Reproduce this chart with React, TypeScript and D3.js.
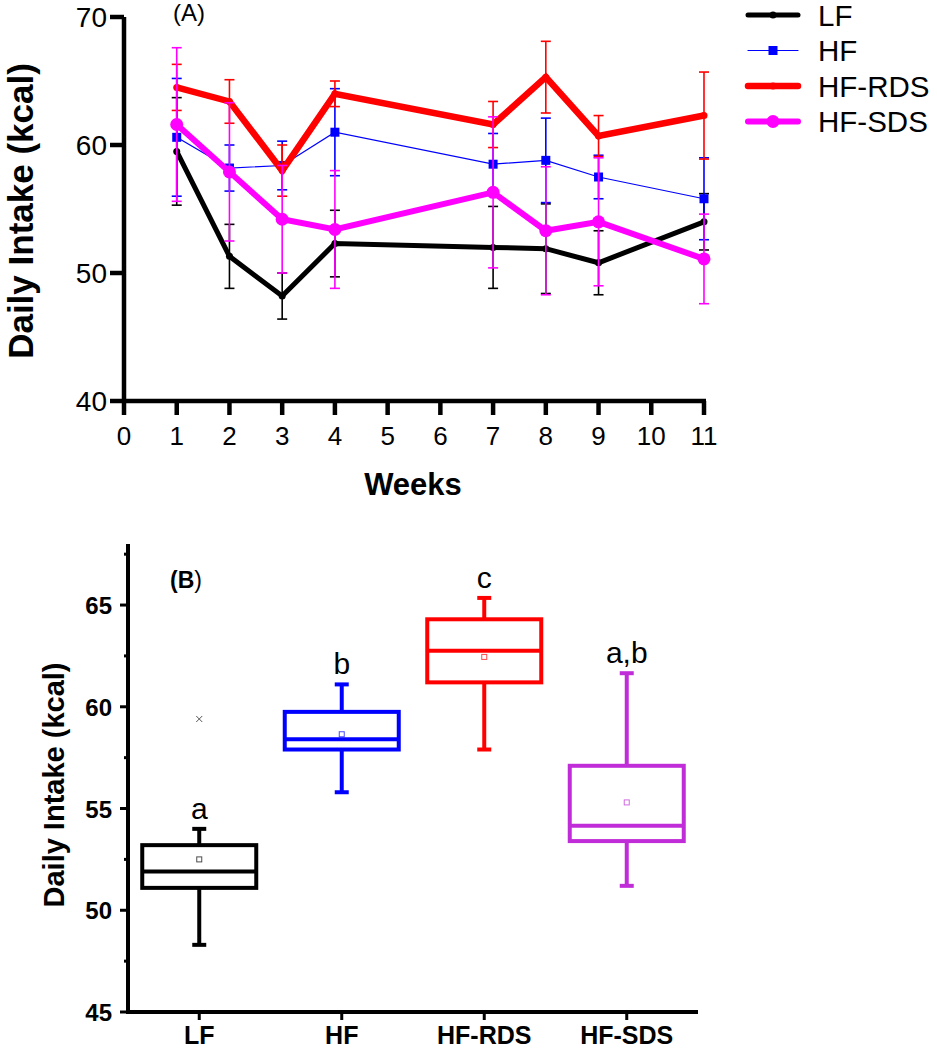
import React from "react";
import * as d3 from "d3";

// ---------- Panel A data ----------
const weeks = [1, 2, 3, 4, 7, 8, 9, 11];
const xTicksA = [0, 1, 2, 3, 4, 5, 6, 7, 8, 9, 10, 11];
const yTicksA = [40, 50, 60, 70];
const lfMean = [59.5, 51.3, 48.2, 52.3, 52.0, 51.9, 50.8, 54.0];
const lfErr = [4.2, 2.5, 1.8, 2.6, 3.2, 3.5, 2.5, 2.2];
const hfMean = [60.6, 58.2, 58.4, 61.0, 58.5, 58.8, 57.5, 55.8];
const hfErr = [4.6, 1.8, 1.9, 3.4, 2.4, 3.3, 1.7, 3.2];
const rdsMean = [64.5, 63.4, 58.0, 64.0, 61.6, 65.3, 60.7, 62.3];
const rdsErr = [1.8, 1.7, 2.0, 1.0, 1.8, 2.8, 1.6, 3.4];
const sdsMean = [61.6, 57.9, 54.2, 53.4, 56.3, 53.3, 54.0, 51.1];
const sdsErr = [6.0, 5.4, 4.2, 4.6, 5.9, 5.0, 5.0, 3.5];

// ---------- Panel B data ----------
const groups = ["LF", "HF", "HF-RDS", "HF-SDS"];
const whiskerLow = [48.3, 55.8, 57.9, 51.2];
const q1 = [51.1, 57.9, 61.2, 53.4];
const median = [51.9, 58.4, 62.75, 54.15];
const q3 = [53.2, 59.75, 64.3, 57.1];
const whiskerHigh = [54.0, 61.1, 65.35, 61.65];
const means = [52.5, 58.65, 62.45, 55.3];
const letters = ["a", "b", "c", "a,b"];
const lfOutliers = [59.4];
const yTicksB = [45, 50, 55, 60, 65];
const yMinorB = [47.5, 52.5, 57.5, 62.5, 67.5];

const FONT = "'Liberation Sans', Arial, Helvetica, sans-serif";

type Series = { name: string; mean: number[]; err: number[]; color: string; width: number; marker: "none" | "square" | "circle" | "dot" };

const seriesA: Series[] = [
  { name: "LF", mean: lfMean, err: lfErr, color: "#000000", width: 5, marker: "dot" },
  { name: "HF", mean: hfMean, err: hfErr, color: "#0000ff", width: 1.2, marker: "square" },
  { name: "HF-RDS", mean: rdsMean, err: rdsErr, color: "#ff0000", width: 6.5, marker: "dot" },
  { name: "HF-SDS", mean: sdsMean, err: sdsErr, color: "#ff00ff", width: 6, marker: "circle" },
];
const boxColors = ["#000000", "#0000ff", "#ff0000", "#c02cd8"];

function Marker({ kind, x, y, color }: { kind: string; x: number; y: number; color: string }) {
  if (kind === "square") return <rect x={x - 4.5} y={y - 4.5} width={9} height={9} fill={color} />;
  if (kind === "circle") return <circle cx={x} cy={y} r={6.5} fill={color} />;
  if (kind === "dot") return <circle cx={x} cy={y} r={3.5} fill={color} />;
  return null;
}

function PanelA() {
  const x = d3.scaleLinear().domain([0, 11]).range([124, 704]);
  const y = d3.scaleLinear().domain([40, 70]).range([401, 17]);
  const line = d3
    .line<number>()
    .x((_, i) => x(weeks[i]))
    .y((d) => y(d));
  const cap = 5;
  return (
    <g>
      {seriesA.map((s) => (
        <g key={s.name}>
          {s.mean.map((m, i) => {
            const cx = x(weeks[i]);
            const top = y(m + s.err[i]);
            const bot = y(m - s.err[i]);
            return (
              <g key={i} stroke={s.color} strokeWidth={1.6}>
                <line x1={cx} x2={cx} y1={top} y2={bot} />
                <line x1={cx - cap} x2={cx + cap} y1={top} y2={top} />
                <line x1={cx - cap} x2={cx + cap} y1={bot} y2={bot} />
              </g>
            );
          })}
          <path d={line(s.mean) || ""} fill="none" stroke={s.color} strokeWidth={s.width} strokeLinejoin="miter" />
          {s.mean.map((m, i) => (
            <Marker key={i} kind={s.marker} x={x(weeks[i])} y={y(m)} color={s.color} />
          ))}
        </g>
      ))}
      {/* axes */}
      <line x1={124} x2={124} y1={y(70)} y2={y(40) + 2} stroke="#000" strokeWidth={4.5} />
      <line x1={122} x2={x(11) + 2} y1={401} y2={401} stroke="#000" strokeWidth={4.5} />
      {yTicksA.map((t) => (
        <g key={t}>
          <line x1={110} x2={124} y1={y(t)} y2={y(t)} stroke="#000" strokeWidth={4.5} />
          <text x={107} y={y(t) + 10} textAnchor="end" fontSize={28} fontFamily={FONT}>
            {t}
          </text>
        </g>
      ))}
      {xTicksA.map((t) => (
        <g key={t}>
          <line x1={x(t)} x2={x(t)} y1={401} y2={415} stroke="#000" strokeWidth={4.5} />
          <text x={x(t)} y={445} textAnchor="middle" fontSize={26} fontFamily={FONT}>
            {t}
          </text>
        </g>
      ))}
      <text x={413} y={495} textAnchor="middle" fontSize={31} fontWeight="bold" fontFamily={FONT}>
        Weeks
      </text>
      <text
        transform={`translate(33,211) rotate(-90)`}
        textAnchor="middle"
        fontSize={35}
        fontWeight="bold"
        fontFamily={FONT}
      >
        Daily Intake (kcal)
      </text>
      <text x={173} y={21} fontSize={24} fontFamily={FONT}>
        (A)
      </text>
      {/* legend */}
      {seriesA.map((s, i) => {
        const ly = 15 + i * 35.5;
        return (
          <g key={s.name}>
            <line x1={748} x2={798} y1={ly} y2={ly} stroke={s.color} strokeWidth={s.width} strokeLinecap="round" />
            <Marker kind={s.marker} x={773} y={ly} color={s.color} />
            <text x={818} y={ly + 10.5} fontSize={29.5} fontFamily={FONT}>
              {s.name}
            </text>
          </g>
        );
      })}
    </g>
  );
}

function PanelB() {
  const x = d3.scaleBand().domain(groups).range([128, 698]);
  const y = d3.scaleLinear().domain([45, 68]).range([1012, 544]);
  const half = 57;
  const capHalf = 7;
  return (
    <g>
      {groups.map((g, i) => {
        const cx = (x(g) as number) + x.bandwidth() / 2;
        const c = boxColors[i];
        return (
          <g key={g}>
            <g stroke={c} strokeWidth={4} fill="none">
              <line x1={cx} x2={cx} y1={y(whiskerHigh[i])} y2={y(q3[i])} />
              <line x1={cx} x2={cx} y1={y(q1[i])} y2={y(whiskerLow[i])} />
              <line x1={cx - capHalf} x2={cx + capHalf} y1={y(whiskerHigh[i])} y2={y(whiskerHigh[i])} />
              <line x1={cx - capHalf} x2={cx + capHalf} y1={y(whiskerLow[i])} y2={y(whiskerLow[i])} />
              <rect x={cx - half} y={y(q3[i])} width={half * 2} height={y(q1[i]) - y(q3[i])} />
              <line x1={cx - half} x2={cx + half} y1={y(median[i])} y2={y(median[i])} />
            </g>
            <rect x={cx - 2.5} y={y(means[i]) - 2.5} width={5} height={5} fill="#fff" stroke={c} strokeWidth={1} opacity={0.7} />
            <text x={cx} y={y(whiskerHigh[i]) - 10} textAnchor="middle" fontSize={30} fontFamily={FONT}>
              {letters[i]}
            </text>
            {i === 0 &&
              lfOutliers.map((o, k) => (
                <g key={k} stroke="#555" strokeWidth={1}>
                  <line x1={cx - 3} x2={cx + 3} y1={y(o) - 3} y2={y(o) + 3} />
                  <line x1={cx - 3} x2={cx + 3} y1={y(o) + 3} y2={y(o) - 3} />
                </g>
              ))}
          </g>
        );
      })}
      {/* axes */}
      <line x1={128} x2={128} y1={y(68)} y2={1014} stroke="#000" strokeWidth={4} />
      <line x1={126} x2={698} y1={1012} y2={1012} stroke="#000" strokeWidth={4} />
      {yTicksB.map((t) => (
        <g key={t}>
          <line x1={120} x2={128} y1={y(t)} y2={y(t)} stroke="#000" strokeWidth={3} />
          <text x={112} y={y(t) + 9} textAnchor="end" fontSize={24} fontWeight="bold" fontFamily={FONT}>
            {t}
          </text>
        </g>
      ))}
      {yMinorB.map((t) => (
        <line key={t} x1={124} x2={128} y1={y(t)} y2={y(t)} stroke="#000" strokeWidth={3} />
      ))}
      {groups.map((g) => {
        const cx = (x(g) as number) + x.bandwidth() / 2;
        return (
          <g key={g}>
            <line x1={cx} x2={cx} y1={1012} y2={1020} stroke="#000" strokeWidth={3} />
            <text x={cx} y={1044} textAnchor="middle" fontSize={25} fontWeight="bold" fontFamily={FONT}>
              {g}
            </text>
          </g>
        );
      })}
      <text
        transform={`translate(64,785) rotate(-90)`}
        textAnchor="middle"
        fontSize={29}
        fontWeight="bold"
        fontFamily={FONT}
      >
        Daily Intake (kcal)
      </text>
      <text x={170} y={588} fontSize={23} fontFamily={FONT}>
        <tspan fontWeight="bold">(B</tspan>)
      </text>
    </g>
  );
}

export default function App() {
  return (
    <svg
      width={937}
      height={1050}
      viewBox="0 0 937 1050"
      style={{ position: "absolute", left: 0, top: 0, background: "#fff" }}
    >
      <rect width={937} height={1050} fill="#fff" />
      <PanelA />
      <PanelB />
    </svg>
  );
}
